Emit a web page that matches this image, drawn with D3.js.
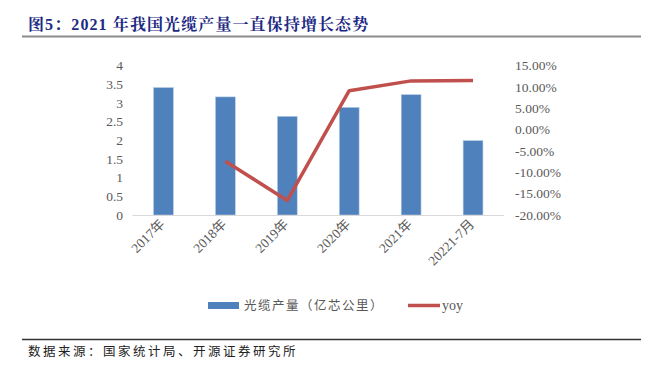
<!DOCTYPE html>
<html><head><meta charset="utf-8">
<script src="https://cdn.jsdelivr.net/npm/d3@7"></script>
<style>body{margin:0;background:#fff}svg{display:block}</style>
</head><body>
<script>
const categories = ["2017年","2018年","2019年","2020年","2021年","20221-7月"];
const production = [3.41, 3.16, 2.64, 2.88, 3.22, 1.99];
const yoy = [null, -7.4, -16.6, 9.1, 11.4, 11.5];
const leftTicks = [0,0.5,1,1.5,2,2.5,3,3.5,4];
const rightTicks = [-20,-15,-10,-5,0,5,10,15];

const W=655,H=365;
const svg=d3.select("body").append("svg").attr("width",W).attr("height",H);
const serif="'Liberation Serif','Times New Roman',serif";
const cjk="'Noto Sans CJK SC',sans-serif";

svg.append("text").attr("x",28).attr("y",30).attr("fill","#1e2a84")
  .attr("font-family","'Liberation Serif','Noto Serif CJK SC','Noto Sans CJK SC',serif")
  .attr("font-weight","bold").attr("font-size",16).attr("letter-spacing",1.1).text("图5：2021 年我国光缆产量一直保持增长态势");
svg.append("line").attr("x1",22).attr("x2",641).attr("y1",36.5).attr("y2",36.5).attr("stroke","#8c8c8c").attr("stroke-width",2);

const x=d3.scaleBand().domain(categories).range([132.5,504]).paddingInner(0.68).paddingOuter(0.34);
const y=d3.scaleLinear().domain([0,4]).range([215,65.5]);
const y2=d3.scaleLinear().domain([-20,15]).range([215,65.5]);

// left axis
const la=svg.append("g").attr("transform","translate(123,0)")
  .call(d3.axisLeft(y).tickValues(leftTicks).tickSize(0).tickPadding(0).tickFormat(d3.format("")));
la.select(".domain").remove();
la.selectAll("text").attr("font-family",serif).attr("font-size",13.5).attr("fill","#595959");

// right axis
const ra=svg.append("g").attr("transform","translate(515,0)")
  .call(d3.axisRight(y2).tickValues(rightTicks).tickSize(0).tickPadding(0).tickFormat(d=>d.toFixed(2)+"%"));
ra.select(".domain").remove();
ra.selectAll("text").attr("font-family",serif).attr("font-size",13.5).attr("fill","#595959");

// bars
svg.selectAll("rect.bar").data(production).enter().append("rect")
  .attr("x",(d,i)=>x(categories[i])).attr("width",x.bandwidth())
  .attr("y",d=>y(d)).attr("height",d=>y(0)-y(d))
  .attr("fill","#4f81bd").attr("stroke","#b8cce4").attr("stroke-width",0.6);

// baseline
svg.append("line").attr("x1",132.5).attr("x2",504).attr("y1",y(0)+0.5).attr("y2",y(0)+0.5).attr("stroke","#d9d9d9").attr("stroke-width",1);

// x labels
svg.selectAll("text.xl").data(categories).enter().append("text")
  .attr("transform",d=>`translate(${x(d)+x.bandwidth()/2+2},${225}) rotate(-45)`)
  .attr("text-anchor","end").attr("font-family",serif+",'Noto Sans CJK SC'").attr("font-size",13.5).attr("fill","#595959").text(d=>d);

// line
const pts=yoy.map((v,i)=>({v,c:categories[i]})).filter(d=>d.v!==null);
svg.append("path").datum(pts).attr("fill","none").attr("stroke","#c0504d").attr("stroke-width",3.5)
  .attr("stroke-linejoin","round")
  .attr("d",d3.line().x(d=>x(d.c)+x.bandwidth()/2).y(d=>y2(d.v)));

// legend
svg.append("rect").attr("x",208).attr("y",302).attr("width",31).attr("height",7).attr("fill","#4f81bd");
svg.append("text").attr("x",244).attr("y",310).attr("font-family",cjk).attr("font-size",12.5).attr("fill","#595959").attr("letter-spacing",1.5).text("光缆产量（亿芯公里）");
svg.append("line").attr("x1",408).attr("x2",440).attr("y1",305.5).attr("y2",305.5).attr("stroke","#c0504d").attr("stroke-width",3.5);
svg.append("text").attr("x",442).attr("y",310).attr("font-family",serif).attr("font-size",14).attr("fill","#595959").text("yoy");

// footer
svg.append("line").attr("x1",22).attr("x2",641).attr("y1",339.5).attr("y2",339.5).attr("stroke","#333").attr("stroke-width",1.5);
svg.append("text").attr("x",28).attr("y",356).attr("font-family",cjk).attr("font-size",12.5).attr("fill","#222").attr("letter-spacing",2.5).text("数据来源：国家统计局、开源证券研究所");
</script>
</body></html>
